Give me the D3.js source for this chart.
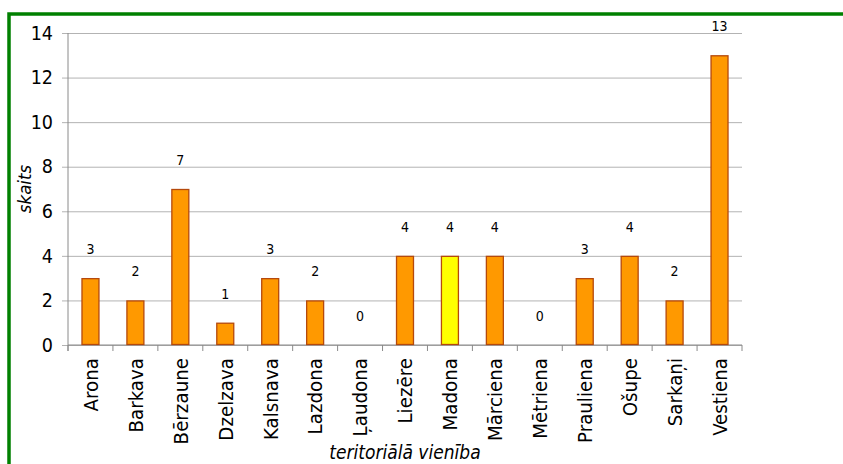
<!DOCTYPE html>
<html>
<head>
<meta charset="utf-8">
<script src="https://cdn.jsdelivr.net/npm/d3@7"></script>
<style>
  html, body { margin: 0; padding: 0; background: #fff; }
  svg { display: block; }
  svg text { font-family: "DejaVu Sans Condensed", "DejaVu Sans", sans-serif; font-stretch: condensed; }
</style>
</head>
<body>
<svg id="chart" width="843" height="464"></svg>
<script>
const categories = ["Arona","Barkava","Bērzaune","Dzelzava","Kalsnava","Lazdona","Ļaudona","Liezēre","Madona","Mārciena","Mētriena","Prauliena","Ošupe","Sarkaņi","Vestiena"];
const values = [3,2,7,1,3,2,0,4,4,4,0,3,4,2,13];
const highlighted = ["Madona"];
const yTicks = [0,2,4,6,8,10,12,14];
const yTitle = "skaits";
const xTitle = "teritoriālā vienība";

(function () {
const svg = d3.select("#chart");
const pLeft = 68, pRight = 742, pTop = 33, pBottom = 345;

svg.append("rect").attr("width", 843).attr("height", 464).attr("fill", "#fff");

const x = d3.scaleBand().domain(categories).range([pLeft, pRight]).paddingInner(0.6).paddingOuter(0.3);
const y = d3.scaleLinear().domain([0, 14]).range([pBottom, pTop]);

// gridlines + left ticks
const yAxis = d3.axisLeft(y).tickValues(yTicks).tickSize(-(pRight - pLeft)).tickSizeOuter(0).tickPadding(8);
const gy = svg.append("g").attr("transform", `translate(${pLeft},0)`).call(yAxis);
gy.select(".domain").remove();
gy.attr("font-family", null).attr("font-size", null);
gy.selectAll(".tick line").attr("stroke", "#b3b3b3").attr("stroke-width", 1).attr("x1", -6);
gy.selectAll(".tick text").attr("font-size", 19.5).attr("fill", "#000").attr("x", -15);

// axis lines
svg.append("line").attr("x1", pLeft).attr("x2", pLeft).attr("y1", pTop).attr("y2", pBottom + 6).attr("stroke", "#8a8a8a");
svg.append("line").attr("x1", pLeft).attr("x2", pRight).attr("y1", pBottom).attr("y2", pBottom).attr("stroke", "#8a8a8a");
const step = x.step();
svg.append("g").selectAll("line").data(d3.range(categories.length + 1)).join("line")
  .attr("x1", i => pLeft + i * step).attr("x2", i => pLeft + i * step)
  .attr("y1", pBottom).attr("y2", pBottom + 6).attr("stroke", "#8a8a8a");

// bars
svg.append("g").selectAll("rect").data(categories).join("rect")
  .attr("x", (c) => x(c) + 0.5)
  .attr("y", (c, i) => y(values[i]) + 0.5)
  .attr("width", x.bandwidth() - 1)
  .attr("height", (c, i) => Math.max(0, y(0) - y(values[i]) - 1))
  .attr("fill", c => highlighted.includes(c) ? "#ffff00" : "#ff9900")
  .attr("stroke", "#b5490c")
  .attr("stroke-width", 1.3)
  .attr("display", (c, i) => values[i] > 0 ? null : "none");

// value labels
svg.append("g").selectAll("text").data(categories).join("text")
  .attr("x", c => x(c) + x.bandwidth() / 2)
  .attr("y", (c, i) => y(values[i]) - 29)
  .attr("dy", "0.35em")
  .attr("text-anchor", "middle")
  .attr("font-size", 14)
  .attr("fill", "#000")
  .text((c, i) => values[i]);

// category labels
svg.append("g").selectAll("text").data(categories).join("text")
  .attr("transform", c => `translate(${x(c) + x.bandwidth() / 2},358) rotate(-90)`)
  .attr("dy", "0.36em")
  .attr("text-anchor", "end")
  .attr("font-size", 20.3)
  .attr("fill", "#000")
  .text(c => c);

// axis titles
svg.append("text")
  .attr("transform", `translate(25,${(pTop + pBottom) / 2}) rotate(-90)`)
  .attr("dy", "0.35em")
  .attr("text-anchor", "middle")
  .attr("font-size", 18.5)
  .attr("font-style", "italic")
  .text(yTitle);
svg.append("text")
  .attr("x", (pLeft + pRight) / 2)
  .attr("y", 459)
  .attr("text-anchor", "middle")
  .attr("font-size", 19)
  .attr("font-style", "italic")
  .text(xTitle);

// green frame
svg.append("path").attr("d", "M9,464 V14 H843").attr("fill", "none").attr("stroke", "#008000").attr("stroke-width", 3.5);
})();
</script>
</body>
</html>
